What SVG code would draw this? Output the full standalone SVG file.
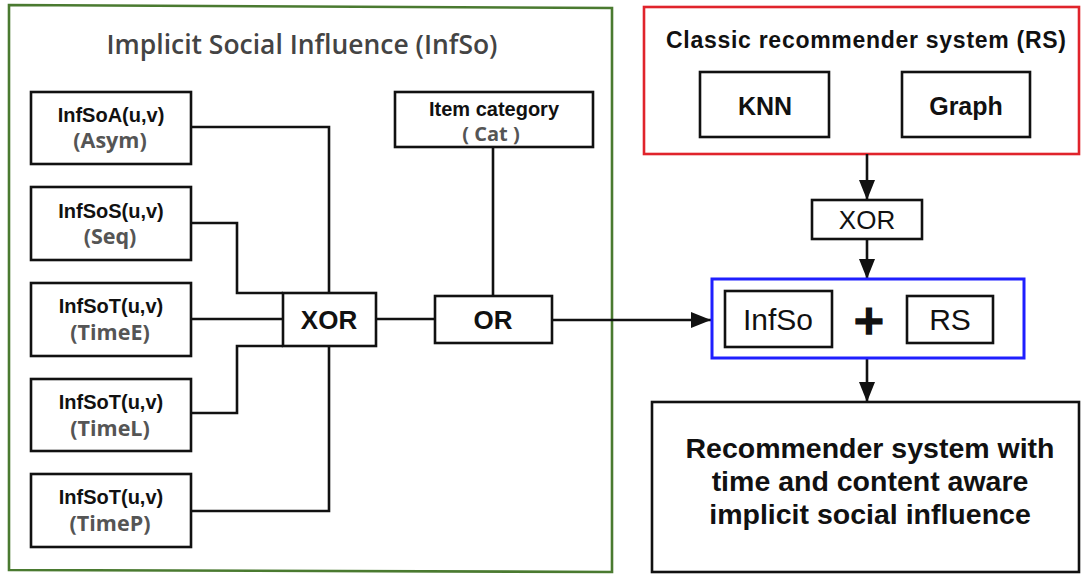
<svg xmlns="http://www.w3.org/2000/svg" width="1081" height="574" viewBox="0 0 1081 574">
<style>
.box{fill:#fff;stroke:#111;stroke-width:2.6}
.ln{fill:none;stroke:#111;stroke-width:2.6}
.lbl{font-family:"Liberation Sans",Arial,sans-serif;font-weight:bold;fill:#111;text-anchor:middle}
.sub{font-family:"Open Sans","Liberation Sans",sans-serif;font-weight:700;fill:#555;text-anchor:middle}
.reg{font-family:"Liberation Sans",Arial,sans-serif;fill:#111;text-anchor:middle}
</style>
<defs>
<marker id="ah" viewBox="0 0 20 16" refX="20" refY="8" markerWidth="20" markerHeight="16" markerUnits="userSpaceOnUse" orient="auto">
<path d="M0,0 L20,8 L0,16 z" fill="#111"/>
</marker>
</defs>
<rect width="1081" height="574" fill="#fff"/>

<g id="infso-group">
<polygon points="9,5 612,8 612,572 9,570" fill="none" stroke="#4a7a30" stroke-width="2.6"/>
<text x="302" y="54" font-family="Open Sans, sans-serif" font-weight="600" font-size="26.5" fill="#444" text-anchor="middle" textLength="391" lengthAdjust="spacingAndGlyphs">Implicit Social Influence (InfSo)</text>
</g>

<g id="rs-group">
<rect x="644" y="7" width="435" height="147" fill="none" stroke="#e0232b" stroke-width="2.6"/>
<text x="866" y="48" class="lbl" font-size="23" textLength="400">Classic recommender system (RS)</text>
</g>

<g id="connectors">
<path class="ln" d="M191,127 H329 V293"/>
<path class="ln" d="M191,223 H237 V293 H283"/>
<path class="ln" d="M191,319 H283"/>
<path class="ln" d="M191,413 H237 V346 H283"/>
<path class="ln" d="M191,511 H329 V346"/>
<path class="ln" d="M376,319 H435"/>
<path class="ln" d="M493,147 V296"/>
<path class="ln" d="M552,320 H711" marker-end="url(#ah)"/>
<path class="ln" d="M867,154 V200" marker-end="url(#ah)"/>
<path class="ln" d="M867,239 V279" marker-end="url(#ah)"/>
<path class="ln" d="M867,358 V402" marker-end="url(#ah)"/>
</g>

<g id="infsoa">
<rect class="box" x="31" y="92" width="160" height="72"/>
<text x="111" y="122" class="lbl" font-size="20">InfSoA(u,v)</text>
<text x="110" y="148" class="sub" font-size="21.5">(Asym)</text>
</g>
<g id="infsos">
<rect class="box" x="31" y="187" width="160" height="73"/>
<text x="111" y="218" class="lbl" font-size="20">InfSoS(u,v)</text>
<text x="110" y="244" class="sub" font-size="21.5">(Seq)</text>
</g>
<g id="timee">
<rect class="box" x="31" y="283" width="160" height="73"/>
<text x="111" y="313" class="lbl" font-size="20">InfSoT(u,v)</text>
<text x="110" y="340" class="sub" font-size="21.5">(TimeE)</text>
</g>
<g id="timel">
<rect class="box" x="31" y="379" width="160" height="72"/>
<text x="111" y="409" class="lbl" font-size="20">InfSoT(u,v)</text>
<text x="110" y="436" class="sub" font-size="21.5">(TimeL)</text>
</g>
<g id="timep">
<rect class="box" x="31" y="474" width="160" height="73"/>
<text x="111" y="504" class="lbl" font-size="20">InfSoT(u,v)</text>
<text x="110" y="531" class="sub" font-size="21.5">(TimeP)</text>
</g>

<g id="item-category">
<rect class="box" x="395" y="92" width="198" height="55"/>
<text x="494" y="116" class="lbl" font-size="20">Item category</text>
<text x="491" y="141" class="sub" font-size="20">( Cat )</text>
</g>

<g id="xor1">
<rect class="box" x="283" y="293" width="93" height="53"/>
<text x="329" y="329" class="lbl" font-size="26">XOR</text>
</g>

<g id="or">
<rect class="box" x="435" y="296" width="117" height="47"/>
<text x="493" y="329" class="lbl" font-size="26">OR</text>
</g>

<g id="knn">
<rect class="box" x="700" y="72" width="129" height="65"/>
<text x="765" y="115" class="lbl" font-size="25">KNN</text>
</g>
<g id="graph">
<rect class="box" x="902" y="72" width="128" height="65"/>
<text x="966" y="115" class="lbl" font-size="25">Graph</text>
</g>

<g id="xor2">
<rect class="box" x="812" y="200" width="110" height="39"/>
<text x="867" y="229" class="reg" font-size="26">XOR</text>
</g>

<g id="combine">
<rect x="712" y="279" width="312" height="79" fill="#fff" stroke="#1f1fff" stroke-width="3"/>
<rect class="box" x="725" y="291" width="107" height="56"/>
<text x="778" y="330" class="reg" font-size="30">InfSo</text>
<text x="869" y="334" font-family="DejaVu Sans, sans-serif" font-weight="bold" font-size="41" fill="#111" stroke="#111" stroke-width="1.5" text-anchor="middle">+</text>
<rect class="box" x="907" y="296" width="86" height="47"/>
<text x="950" y="330" class="reg" font-size="30">RS</text>
</g>

<g id="result">
<rect class="box" x="652" y="402" width="427" height="170"/>
<text x="870" y="458" class="lbl" font-size="28.5">Recommender system with</text>
<text x="870" y="491" class="lbl" font-size="28.5">time and content aware</text>
<text x="870" y="524" class="lbl" font-size="28.5">implicit social influence</text>
</g>
</svg>
